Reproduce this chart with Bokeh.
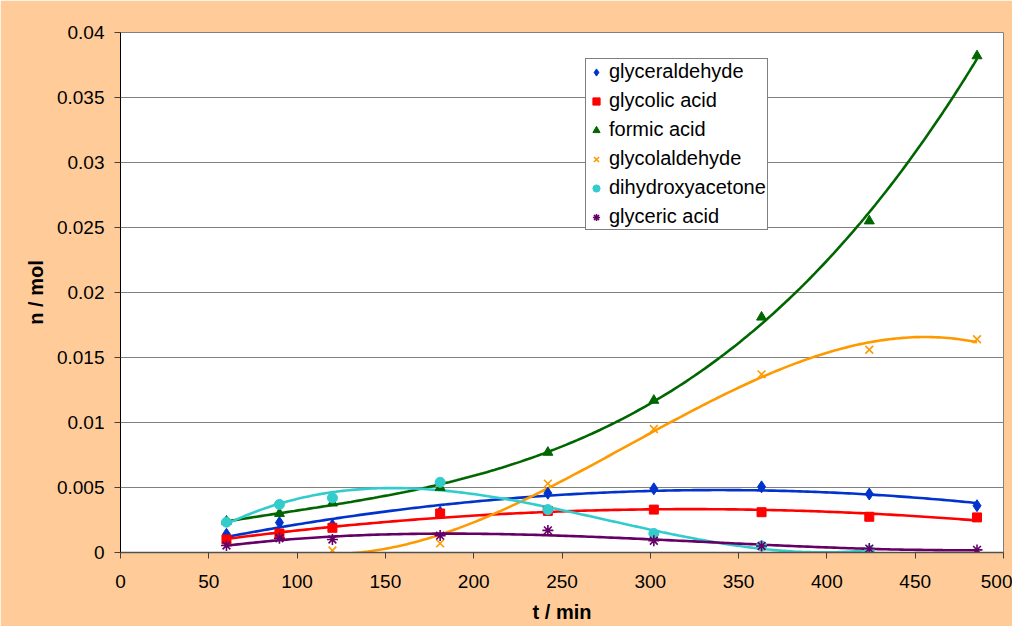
import numpy as np
from bokeh.plotting import figure
from bokeh.models import Range1d, FixedTicker, Legend, LegendItem
from bokeh.embed import file_html
from bokeh.resources import INLINE

# ---- data ----
t_min = [60, 90, 120, 181, 242, 302, 363, 424, 485]
glyceraldehyde = [0.0014, 0.0023, 0.0021, 0.0031, 0.00456, 0.0049, 0.00505, 0.0045, 0.0036]
glycolic_acid = [0.0010, 0.00146, 0.0019, 0.0030, 0.0032, 0.0033, 0.0031, 0.00275, 0.0027]
formic_acid = [0.0024, 0.0030, 0.0038, 0.0050, 0.0077, 0.0117, 0.0181, 0.0255, 0.0382]
t_glycolaldehyde = [120, 181, 242, 302, 363, 424, 485]
glycolaldehyde = [0.00015, 0.0007, 0.0053, 0.0095, 0.0137, 0.0156, 0.0164]
t_dha = [60, 90, 120, 181, 242, 302, 363, 424]
dihydroxyacetone = [0.00233, 0.0037, 0.0042, 0.0054, 0.0033, 0.00146, 0.0005, 0.00015]
glyceric_acid = [0.00054, 0.0011, 0.0010, 0.0013, 0.0017, 0.0009, 0.0005, 0.0003, 0.0002]

x_ticks = [0, 50, 100, 150, 200, 250, 300, 350, 400, 450, 500]
y_ticks = [0, 0.005, 0.01, 0.015, 0.02, 0.025, 0.03, 0.035, 0.04]
y_tick_labels = ["0", "0.005", "0.01", "0.015", "0.02", "0.025", "0.03", "0.035", "0.04"]
x_title = "t / min"
y_title = "n / mol"

FONT = "Liberation Sans"

p = figure(width=1012, height=626, output_backend="svg", toolbar_location=None,
           x_range=Range1d(0, 500), y_range=Range1d(0, 0.04),
           min_border_left=120, min_border_right=9, min_border_top=32, min_border_bottom=74)
p.background_fill_color = "white"
p.border_fill_color = "#FFCC99"
p.outline_line_color = "#808080"
p.outline_line_width = 1

p.xgrid.visible = False
p.ygrid.grid_line_color = "#808080"
p.ygrid.grid_line_width = 1.2

p.xaxis.ticker = FixedTicker(ticks=x_ticks)
p.yaxis.ticker = FixedTicker(ticks=y_ticks)
p.yaxis.major_label_overrides = {v: s for v, s in zip(y_ticks, y_tick_labels)}
for ax in (p.xaxis[0], p.yaxis[0]):
    ax.minor_tick_line_color = None
    ax.major_tick_out = 6
    ax.major_tick_in = 0
    ax.major_label_text_font = FONT
    ax.major_label_text_font_size = "19px"
    ax.major_label_text_color = "black"
    ax.axis_label_text_font = FONT
    ax.axis_label_text_font_size = "20px"
    ax.axis_label_text_font_style = "bold"
    ax.axis_label_text_color = "black"
p.xaxis.axis_label = x_title
p.yaxis.axis_label = y_title
p.yaxis.axis_line_color = "black"
p.yaxis.major_tick_line_color = "#404040"
p.yaxis.major_label_standoff = 10
p.yaxis.axis_label_standoff = 7
p.xaxis.axis_line_color = "#505050"
p.xaxis.axis_line_width = 1.5
p.xaxis.major_tick_line_color = "#404040"
p.xaxis.major_label_standoff = 16
p.xaxis.axis_label_standoff = 10


def trend(x, y, deg=3):
    x = np.asarray(x, float)
    y = np.asarray(y, float)
    c = np.polyfit(x, y, deg)
    xs = np.linspace(x.min(), x.max(), 200)
    return xs, np.polyval(c, xs)


series = [
    ("glyceraldehyde", t_min, glyceraldehyde, "#0033CC", "diamond", 12, 2),
    ("glycolic acid", t_min, glycolic_acid, "#FF0000", "square", 9, 2),
    ("formic acid", t_min, formic_acid, "#006600", "triangle", 10, 3),
    ("glycolaldehyde", t_glycolaldehyde, glycolaldehyde, "#FF9900", "x", 11, 3),
    ("dihydroxyacetone", t_dha, dihydroxyacetone, "#33CCCC", "circle", 10, 3),
    ("glyceric acid", t_min, glyceric_acid, "#660066", "asterisk", 11, 3),
]

for name, xs, ys, col, mk, sz, deg in series:
    fx, fy = trend(xs, ys, deg)
    p.line(fx, fy, line_color=col, line_width=2.6)

items = []
for name, xs, ys, col, mk, sz, deg in series:
    if mk in ("x", "asterisk"):
        r = p.scatter(xs, ys, marker=mk, size=sz, line_color=col, line_width=1.6)
    else:
        r = p.scatter(xs, ys, marker=mk, size=sz, fill_color=col, line_color=col)
    items.append(LegendItem(label=name, renderers=[r]))

legend = Legend(items=items, location=(465, 322))
legend.background_fill_color = "white"
legend.background_fill_alpha = 1.0
legend.border_line_color = "black"
legend.border_line_width = 1
legend.label_text_font = FONT
legend.label_text_font_size = "20px"
legend.label_text_color = "black"
legend.glyph_width = 18
legend.glyph_height = 22
legend.label_height = 22
legend.spacing = 6
legend.padding = 1
legend.margin = 0
legend.label_standoff = 4
p.add_layout(legend)

open("out.html", "w").write(file_html(p, INLINE))
